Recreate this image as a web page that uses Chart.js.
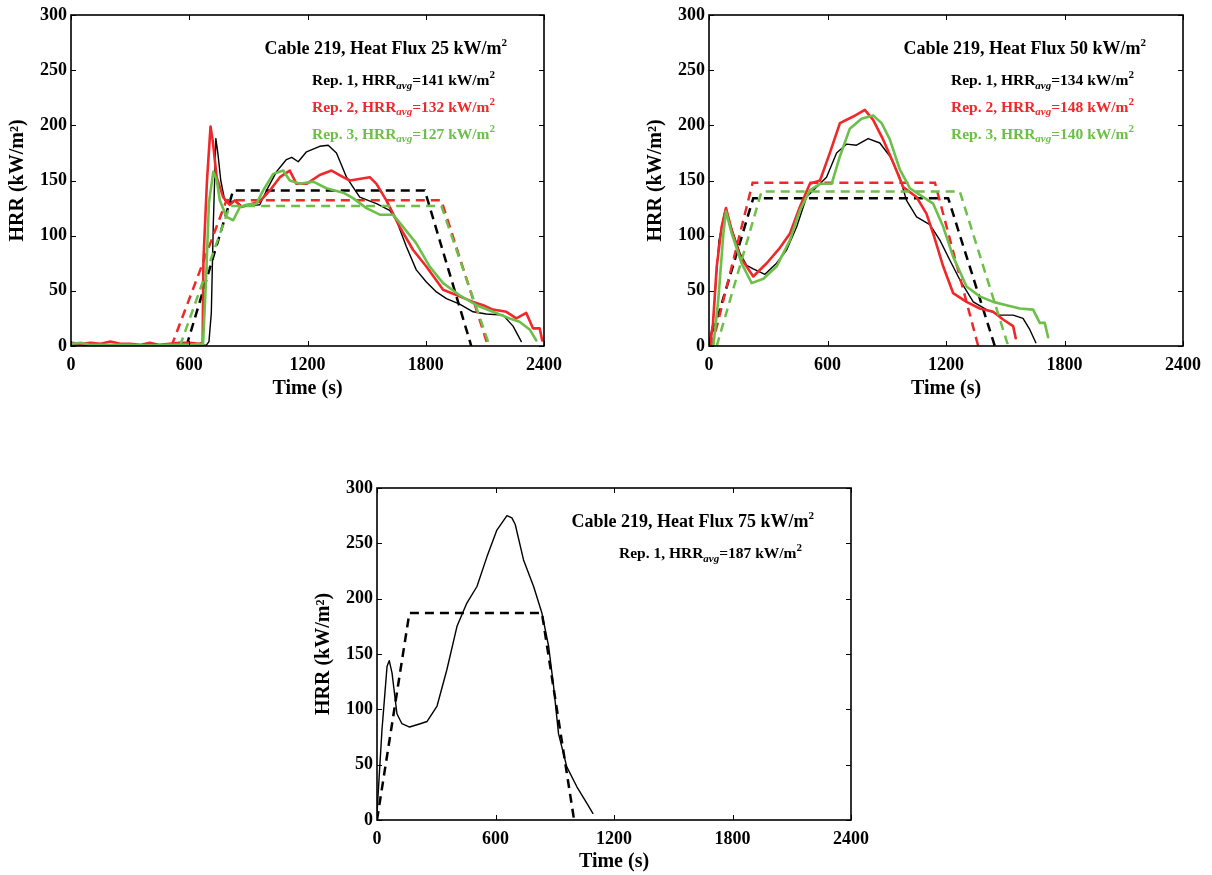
<!DOCTYPE html>
<html>
<head>
<meta charset="utf-8">
<script src="https://cdn.jsdelivr.net/npm/chart.js@4.4.1/dist/chart.umd.min.js"></script>
<style>
  html, body { margin: 0; padding: 0; background: #ffffff; }
  body { width: 1212px; height: 875px; position: relative; overflow: hidden; }
  canvas { position: absolute; }
</style>
</head>
<body>
<canvas id="p25" width="600" height="404" style="left:0px;top:0px"></canvas>
<canvas id="p50" width="592" height="404" style="left:620px;top:0px"></canvas>
<canvas id="p75" width="600" height="409" style="left:300px;top:470px"></canvas>
<script>
// ---------- Axis ticks ----------
const timeTicks = [0, 600, 1200, 1800, 2400];
const hrrTicks = [0, 50, 100, 150, 200, 250, 300];

// ---------- Heat flux 25 kW/m2 ----------
const t25Rep1 = [0, 100, 200, 300, 400, 500, 600, 688, 700, 712, 722, 735, 745, 760, 780, 798, 831, 865, 958, 992, 1043, 1093, 1120, 1153, 1195, 1262, 1305, 1347, 1398, 1431, 1465, 1550, 1617, 1651, 1702, 1752, 1803, 1854, 1905, 1972, 2040, 2107, 2192, 2243, 2285];
const hrr25Rep1 = [1, 0.5, 1, 0.5, 0.5, 1, 0.5, 1, 4, 30, 110, 188, 175, 150, 132, 129, 132, 127, 128, 141, 158, 169, 171, 167, 176, 181, 182, 175, 153, 144, 135, 129, 123, 114, 90, 69, 58, 49, 43, 38, 31, 29, 28, 18, 4];
const t25Rep2 = [0, 50, 100, 150, 200, 250, 300, 350, 400, 450, 500, 550, 600, 650, 668, 672, 690, 708, 720, 739, 772, 806, 831, 865, 958, 1009, 1060, 1110, 1144, 1195, 1262, 1322, 1381, 1415, 1516, 1550, 1600, 1668, 1736, 1803, 1888, 1972, 2040, 2091, 2141, 2209, 2260, 2310, 2344, 2378, 2391];
const hrr25Rep2 = [3, 2, 3, 2, 4, 2, 2, 1, 3, 1, 2, 3, 3, 2, 3, 78, 150, 199, 185, 153, 135, 128, 132, 126, 131, 141, 153, 159, 147, 147, 155, 159, 153, 150, 153, 147, 132, 108, 87, 72, 51, 45, 40, 37, 33, 31, 25, 30, 16, 16, 5];
const t25Rep3 = [0, 50, 100, 200, 300, 400, 500, 600, 670, 685, 700, 722, 740, 755, 789, 823, 857, 891, 941, 975, 1026, 1077, 1110, 1161, 1229, 1296, 1381, 1431, 1499, 1567, 1634, 1685, 1752, 1820, 1888, 1972, 2057, 2141, 2226, 2276, 2327, 2361];
const hrr25Rep3 = [2, 3, 1, 1, 1, 0.5, 1, 1, 2, 60, 130, 158, 150, 132, 117, 114, 126, 128, 129, 141, 156, 159, 150, 147, 149, 143, 139, 134, 125, 119, 119, 108, 93, 72, 57, 46, 37, 31, 25, 22, 15, 5];
const avgT25Rep1 = [586, 823, 1795, 2031];
const avgV25Rep1 = [0, 141, 141, 0];
const avgT25Rep2 = [510, 789, 1879, 2116];
const avgV25Rep2 = [0, 132, 132, 0];
const avgT25Rep3 = [553, 806, 1879, 2124];
const avgV25Rep3 = [0, 127, 127, 0];

// ---------- Heat flux 50 kW/m2 ----------
const t50Rep1 = [0, 20, 50, 81, 123, 157, 191, 224, 283, 342, 393, 444, 494, 545, 595, 646, 697, 747, 806, 865, 916, 966, 1000, 1051, 1118, 1169, 1219, 1270, 1338, 1405, 1472, 1540, 1590, 1624, 1655];
const hrr50Rep1 = [2, 20, 95, 123, 102, 84, 73, 70, 65, 75, 87, 108, 135, 144, 153, 175, 183, 182, 188, 184, 172, 153, 132, 117, 110, 96, 78, 60, 40, 33, 28, 28, 25, 15, 3];
const t50Rep2 = [5, 20, 39, 64, 86, 115, 157, 224, 292, 359, 410, 460, 511, 562, 612, 663, 730, 789, 831, 882, 933, 983, 1051, 1101, 1135, 1186, 1236, 1304, 1371, 1439, 1489, 1540, 1553];
const hrr50Rep2 = [0, 20, 72, 108, 125, 105, 81, 63, 75, 89, 102, 126, 147, 150, 175, 202, 208, 214, 205, 187, 166, 144, 135, 120, 102, 72, 48, 40, 34, 31, 24, 18, 7];
const t50Rep3 = [22, 47, 73, 86, 115, 165, 216, 275, 342, 410, 460, 511, 562, 621, 663, 713, 772, 831, 874, 916, 966, 1017, 1085, 1135, 1186, 1236, 1304, 1371, 1439, 1506, 1574, 1641, 1675, 1700, 1717];
const hrr50Rep3 = [0, 42, 102, 122, 102, 75, 57, 61, 72, 96, 123, 141, 147, 147, 172, 197, 206, 209, 202, 187, 160, 143, 135, 129, 108, 81, 54, 45, 40, 37, 34, 33, 21, 21, 8];
const avgT50Rep1 = [0, 224, 1211, 1447];
const avgV50Rep1 = [0, 134, 134, 0];
const avgT50Rep2 = [15, 221, 1144, 1363];
const avgV50Rep2 = [0, 148, 148, 0];
const avgT50Rep3 = [39, 266, 1270, 1515];
const avgV50Rep3 = [0, 140, 140, 0];

// ---------- Heat flux 75 kW/m2 ----------
const t75Rep1 = [0, 25, 51, 62, 76, 101, 126, 165, 219, 253, 304, 354, 405, 455, 506, 557, 607, 658, 683, 700, 742, 793, 835, 869, 894, 919, 961, 1012, 1063, 1093];
const hrr75Rep1 = [6, 81, 139, 144, 133, 96, 87, 84, 87, 89, 103, 136, 175, 196, 211, 238, 262, 275, 273, 267, 235, 211, 187, 157, 121, 78, 48, 30, 15, 6];
const avgT75Rep1 = [0, 164, 835, 998];
const avgV75Rep1 = [0, 187, 187, 0];

// ---------- Labels ----------
const panelTitles = ['Cable 219, Heat Flux 25 kW/m', 'Cable 219, Heat Flux 50 kW/m', 'Cable 219, Heat Flux 75 kW/m'];
const repNames = ['Rep. 1', 'Rep. 2', 'Rep. 3'];
const avg25 = ['141', '132', '127'];
const avg50 = ['134', '148', '140'];
const avg75 = ['187'];

const BLACK = '#000000', RED = '#f0282a', GREEN = '#6cbf48';
const repColors = [BLACK, RED, GREEN];
const FAMILY = '"Liberation Serif", "Times New Roman", serif';

function pts(ts, vs) { return ts.map((t, i) => ({ x: t, y: vs[i] })); }

function solid(ts, vs, color, width, order) {
  return { data: pts(ts, vs), borderColor: color, borderWidth: width, pointRadius: 0,
           fill: false, tension: 0, order: order, borderJoinStyle: 'round', borderCapStyle: 'round' };
}
function dashed(ts, vs, color, order) {
  return { data: pts(ts, vs), borderColor: color, borderWidth: 2.5, borderDash: [9, 6], pointRadius: 0,
           fill: false, tension: 0, order: order };
}

function drawRich(ctx, parts, rightX, y, color) {
  let total = 0;
  parts.forEach(p => { ctx.font = p.font; total += ctx.measureText(p.text).width; });
  let x = rightX - total;
  ctx.fillStyle = color;
  ctx.textAlign = 'left';
  ctx.textBaseline = 'alphabetic';
  parts.forEach(p => { ctx.font = p.font; ctx.fillText(p.text, x, y + (p.dy || 0)); x += ctx.measureText(p.text).width; });
}

const framePlugin = {
  id: 'frameAnnot',
  afterDraw(chart, args, opts) {
    const { ctx, chartArea: a } = chart;
    const xs = chart.scales.x, ys = chart.scales.y;
    ctx.save();
    ctx.strokeStyle = '#000';
    ctx.lineWidth = 1;
    ctx.beginPath();
    timeTicks.forEach(v => {
      const px = Math.round(xs.getPixelForValue(v)) + 0.5;
      ctx.moveTo(px, a.bottom); ctx.lineTo(px, a.bottom - 5);
      ctx.moveTo(px, a.top); ctx.lineTo(px, a.top + 5);
    });
    hrrTicks.forEach(v => {
      const py = Math.round(ys.getPixelForValue(v)) + 0.5;
      ctx.moveTo(a.left, py); ctx.lineTo(a.left + 5, py);
      ctx.moveTo(a.right, py); ctx.lineTo(a.right - 5, py);
    });
    ctx.stroke();
    ctx.lineWidth = 1.6;
    ctx.strokeRect(a.left, a.top, a.right - a.left, a.bottom - a.top);

    // annotations
    const titleFont = 'bold 18px ' + FAMILY;
    const supFont = 'bold 11px ' + FAMILY;
    drawRich(ctx, [
      { text: opts.title, font: titleFont },
      { text: '2', font: supFont, dy: -8 }
    ], a.right - 37, a.top + 39, '#000');
    const legFont = 'bold 15.5px ' + FAMILY;
    const subFont = 'italic bold 11px ' + FAMILY;
    opts.avgs.forEach((val, i) => {
      drawRich(ctx, [
        { text: repNames[i] + ', HRR', font: legFont },
        { text: 'avg', font: subFont, dy: 3.5 },
        { text: '=' + val + ' kW/m', font: legFont },
        { text: '2', font: supFont, dy: -7 }
      ], a.right - 49, a.top + 70 + i * 26.8, repColors[i]);
    });
    ctx.restore();
  }
};

function makeChart(id, datasets, area, canvasW, canvasH, yTitlePad, xTitlePad, title, avgs) {
  const tickFont = { family: FAMILY, size: 18, weight: 'bold' };
  const axisFont = { family: FAMILY, size: 20, weight: 'bold' };
  return new Chart(document.getElementById(id), {
    type: 'line',
    data: { datasets: datasets },
    plugins: [framePlugin],
    options: {
      responsive: false,
      animation: false,
      events: [],
      layout: { padding: { left: 0, top: area.t, right: canvasW - area.r, bottom: 0 } },
      plugins: {
        legend: { display: false },
        tooltip: { enabled: false },
        frameAnnot: { title: title, avgs: avgs }
      },
      scales: {
        x: {
          type: 'linear', min: 0, max: 2400,
          afterBuildTicks: s => { s.ticks = timeTicks.map(v => ({ value: v })); },
          ticks: { font: tickFont, color: '#000', padding: 9, maxRotation: 0, autoSkip: false,
                   callback: v => String(v) },
          grid: { display: false, drawTicks: false },
          border: { display: false },
          title: { display: true, text: 'Time (s)', font: axisFont, color: '#000', padding: { top: 0, bottom: xTitlePad } },
          afterFit: s => { s.height = canvasH - area.b; s.paddingLeft = 0; s.paddingRight = 0; }
        },
        y: {
          type: 'linear', min: 0, max: 300,
          afterBuildTicks: s => { s.ticks = hrrTicks.map(v => ({ value: v })); },
          ticks: { font: tickFont, color: '#000', padding: 4, autoSkip: false,
                   callback: v => String(v) },
          grid: { display: false, drawTicks: false },
          border: { display: false },
          title: { display: true, text: 'HRR (kW/m²)', font: axisFont, color: '#000', padding: { top: yTitlePad, bottom: 0 } },
          afterFit: s => { s.width = area.l; s.paddingTop = 0; s.paddingBottom = 0; }
        }
      }
    }
  });
}

makeChart('p25', [
  dashed(avgT25Rep3, avgV25Rep3, GREEN, 1),
  solid(t25Rep3, hrr25Rep3, GREEN, 2.6, 2),
  dashed(avgT25Rep2, avgV25Rep2, RED, 3),
  solid(t25Rep2, hrr25Rep2, RED, 2.6, 4),
  dashed(avgT25Rep1, avgV25Rep1, BLACK, 5),
  solid(t25Rep1, hrr25Rep1, BLACK, 1.4, 6)
], { l: 71, t: 15, r: 544, b: 346 }, 600, 404, 6, 3, panelTitles[0], avg25);

makeChart('p50', [
  dashed(avgT50Rep3, avgV50Rep3, GREEN, 1),
  solid(t50Rep3, hrr50Rep3, GREEN, 2.6, 2),
  dashed(avgT50Rep2, avgV50Rep2, RED, 3),
  solid(t50Rep2, hrr50Rep2, RED, 2.6, 4),
  dashed(avgT50Rep1, avgV50Rep1, BLACK, 5),
  solid(t50Rep1, hrr50Rep1, BLACK, 1.4, 6)
], { l: 89, t: 15, r: 563, b: 346 }, 592, 404, 24, 3, panelTitles[1], avg50);

makeChart('p75', [
  dashed(avgT75Rep1, avgV75Rep1, BLACK, 1),
  solid(t75Rep1, hrr75Rep1, BLACK, 1.4, 2)
], { l: 77, t: 18, r: 551, b: 350 }, 600, 409, 12, 5, panelTitles[2], avg75);
</script>
</body>
</html>
